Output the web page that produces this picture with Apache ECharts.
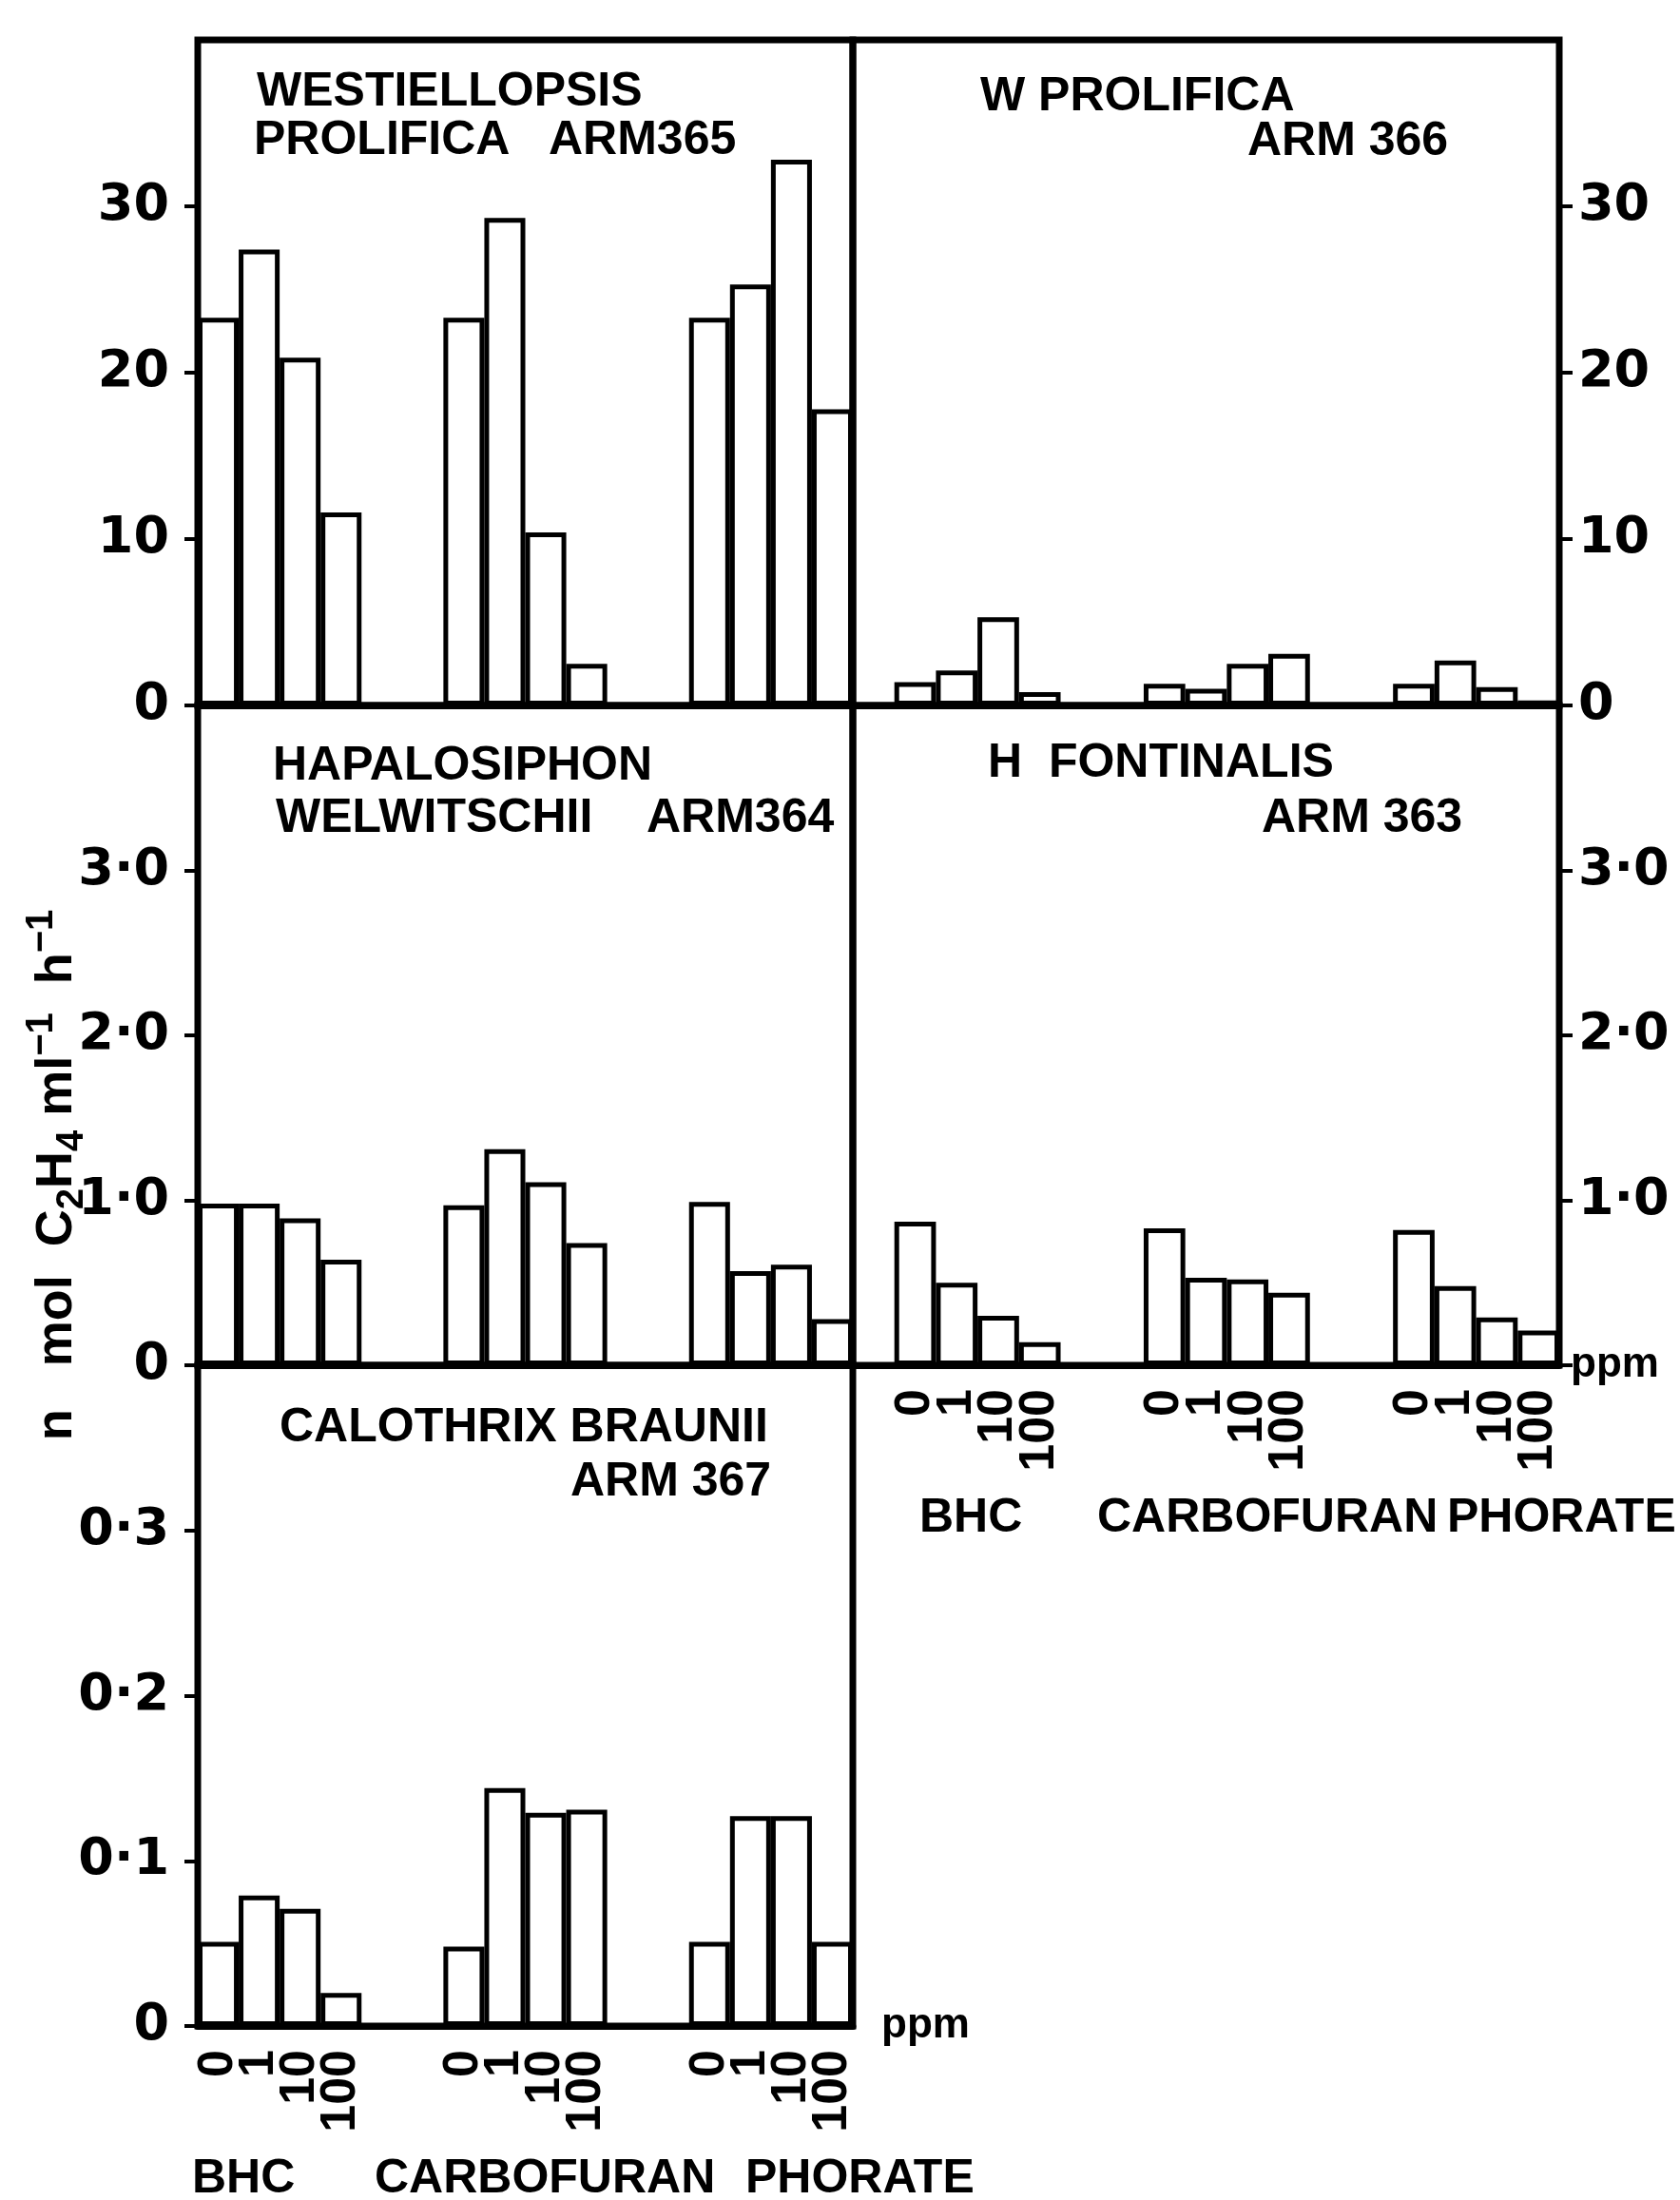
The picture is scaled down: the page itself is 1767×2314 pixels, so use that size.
<!DOCTYPE html>
<html>
<head>
<meta charset="utf-8">
<script src="https://cdn.jsdelivr.net/npm/echarts@6/dist/echarts.min.js"></script>
<style>
html,body{margin:0;padding:0;background:#fff;}
#chart{width:1767px;height:2314px;}
</style>
</head>
<body>
<div id="chart"></div>
<script>
// ---------- data ----------
const doses = ['0', '1', '10', '100'];
const pesticides = ['BHC', 'CARBOFURAN', 'PHORATE'];

// nmol C2H4 ml-1 h-1, order: BHC(0,1,10,100), CARBOFURAN(...), PHORATE(...)
const arm365 = [23.3, 27.4, 20.9, 11.6, 23.3, 29.3, 10.4, 2.5, 23.3, 25.3, 32.8, 17.8];
const arm366 = [1.4, 2.1, 5.3, 0.8, 1.3, 1.0, 2.5, 3.1, 1.3, 2.7, 1.1, 0.3];
const arm364 = [0.98, 0.98, 0.89, 0.64, 0.97, 1.31, 1.11, 0.74, 0.99, 0.57, 0.61, 0.28];
const arm363 = [0.87, 0.50, 0.30, 0.14, 0.83, 0.53, 0.52, 0.44, 0.82, 0.48, 0.29, 0.21];
const arm367 = [0.051, 0.079, 0.071, 0.020, 0.048, 0.144, 0.129, 0.131, 0.051, 0.127, 0.127, 0.051];

const ticksTop = [0, 10, 20, 30];
const tickLabelsTop = ['0', '10', '20', '30'];
const ticksMid = [0, 1, 2, 3];
const tickLabelsMid = ['0', '1·0', '2·0', '3·0'];
const ticksBot = [0, 0.1, 0.2, 0.3];
const tickLabelsBot = ['0', '0·1', '0·2', '0·3'];

const xUnit = 'ppm';
const yTitleParts = ['n   mol  C', '2', 'H', '4', ' ml', '−1', '  h', '−1'];

// ---------- layout ----------
const cols = [{ left: 208, width: 689 }, { left: 897, width: 743 }];
const rows = [{ top: 42, height: 700 }, { top: 742, height: 694 }, { top: 1436, height: 695 }];

const panels = [
  { values: arm365, col: 0, row: 0, lead: 0, max: 40, step: 10, ticks: ticksTop, labels: tickLabelsTop, side: 'left', showX: false, hideZero: false },
  { values: arm366, col: 1, row: 0, lead: 1, max: 40, step: 10, ticks: ticksTop, labels: tickLabelsTop, side: 'right', showX: false, hideZero: false },
  { values: arm364, col: 0, row: 1, lead: 0, max: 4, step: 1, ticks: ticksMid, labels: tickLabelsMid, side: 'left', showX: false, hideZero: false },
  { values: arm363, col: 1, row: 1, lead: 1, max: 4, step: 1, ticks: ticksMid, labels: tickLabelsMid, side: 'right', showX: true, hideZero: true, nameGap: 12 },
  { values: arm367, col: 0, row: 2, lead: 0, max: 0.4, step: 0.1, ticks: ticksBot, labels: tickLabelsBot, side: 'left', showX: true, hideZero: false, nameGap: 30 }
];

const titles = [
  { text: 'WESTIELLOPSIS', x: 270, y: 97 },
  { text: 'PROLIFICA', x: 267, y: 148 },
  { text: 'ARM365', x: 577, y: 148 },
  { text: 'W PROLIFICA', x: 1031, y: 102 },
  { text: 'ARM 366', x: 1312, y: 149 },
  { text: 'HAPALOSIPHON', x: 287, y: 806 },
  { text: 'WELWITSCHII', x: 290, y: 861 },
  { text: 'ARM364', x: 680, y: 861 },
  { text: 'H  FONTINALIS', x: 1039, y: 803 },
  { text: 'ARM 363', x: 1327, y: 861 },
  { text: 'CALOTHRIX BRAUNII', x: 294, y: 1502 },
  { text: 'ARM 367', x: 600, y: 1559 }
];
const groupLabelPos = [
  { xs: [967, 1154, 1522], y: 1597 },
  { xs: [202, 394, 784], y: 2292 }
];

// ---------- build ----------
function buildSlots(values, lead) {
  const cats = [], labels = [], data = [];
  for (let i = 0; i < lead; i++) { cats.push('lead' + i); labels.push(''); data.push(null); }
  pesticides.forEach((p, g) => {
    if (g > 0) { for (let k = 0; k < 2; k++) { cats.push('gap' + g + '_' + k); labels.push(''); data.push(null); } }
    doses.forEach((d, j) => { cats.push(p + '_' + d); labels.push(d); data.push(values[g * doses.length + j]); });
  });
  return { cats, labels, data };
}

const grid = [], xAxis = [], yAxis = [], series = [];
const BLACK = '#000';

panels.forEach((p, i) => {
  const c = cols[p.col], r = rows[p.row];
  grid.push({ left: c.left, top: r.top, width: c.width, height: r.height, show: true,
    borderColor: BLACK, borderWidth: 7, backgroundColor: 'transparent', containLabel: false });
  const s = buildSlots(p.values, p.lead);
  xAxis.push({
    gridIndex: i, type: 'category', data: s.cats, boundaryGap: true,
    axisLine: { show: true, lineStyle: { color: BLACK, width: 7 } },
    axisTick: { show: false },
    splitLine: { show: false },
    name: p.showX ? xUnit : '',
    nameLocation: 'end', nameGap: p.nameGap || 12,
    nameTextStyle: { fontFamily: 'Liberation Sans', fontWeight: 'bold', fontSize: 44, color: BLACK, verticalAlign: 'middle', padding: [14, 0, 0, 0] },
    axisLabel: {
      show: p.showX, interval: 0, rotate: 90, margin: 25,
      fontFamily: 'Liberation Sans', fontWeight: 'bold', fontSize: 52, color: BLACK,
      formatter: (v, idx) => s.labels[idx]
    }
  });
  const labelValues = p.hideZero ? p.ticks.filter(t => t !== 0) : p.ticks.slice();
  yAxis.push({
    gridIndex: i, type: 'value', min: 0, max: p.max, interval: p.step, position: p.side,
    axisLine: { show: false },
    splitLine: { show: false },
    axisTick: { show: true, inside: false, length: 14, lineStyle: { color: BLACK, width: 4 }, customValues: p.ticks },
    axisLabel: {
      show: true, margin: p.side === 'left' ? 30 : 20, customValues: labelValues,
      fontFamily: 'DejaVu Sans', fontWeight: 'bold', fontSize: 54, color: BLACK,
      formatter: (v) => {
        const k = p.ticks.findIndex(t => Math.abs(t - v) < 1e-9);
        return k >= 0 ? p.labels[k] : '';
      }
    }
  });
  series.push({
    type: 'bar', xAxisIndex: i, yAxisIndex: i, data: s.data,
    barWidth: '100%', barCategoryGap: '0%', silent: true,
    itemStyle: { color: '#fff', borderColor: BLACK, borderWidth: 5 }
  });
});

const TFONT = 'bold 50px "Liberation Sans"';
const graphic = [];
titles.forEach(t => graphic.push({
  type: 'text', x: t.x, y: t.y, silent: true,
  style: { text: t.text, font: TFONT, fill: BLACK, align: 'left', verticalAlign: 'middle', textAlign: 'left', textVerticalAlign: 'middle' }
}));
groupLabelPos.forEach(g => pesticides.forEach((p, k) => graphic.push({
  type: 'text', x: g.xs[k], y: g.y, silent: true,
  style: { text: p, font: TFONT, fill: BLACK, align: 'left', verticalAlign: 'middle', textAlign: 'left', textVerticalAlign: 'middle' }
})));
const styleNames = ['m', 'sub', 'm', 'sub', 'm', 'sup', 'm', 'sup'];
graphic.push({
  type: 'text', x: 60, y: 1236, rotation: Math.PI / 2, silent: true,
  style: {
    text: yTitleParts.map((t, k) => '{' + styleNames[k] + '|' + t + '}').join(''),
    fill: BLACK, align: 'center', verticalAlign: 'middle', textAlign: 'center', textVerticalAlign: 'middle',
    rich: {
      m: { fontFamily: 'Liberation Sans', fontWeight: 'bold', fontSize: 54, lineHeight: 72, fill: BLACK, color: BLACK },
      sub: { fontFamily: 'Liberation Sans', fontWeight: 'bold', fontSize: 40, verticalAlign: 'bottom', fill: BLACK, color: BLACK },
      sup: { fontFamily: 'Liberation Sans', fontWeight: 'bold', fontSize: 40, verticalAlign: 'top', fill: BLACK, color: BLACK }
    }
  }
});

const chart = echarts.init(document.getElementById('chart'), null, { renderer: 'canvas', width: 1767, height: 2314 });
chart.setOption({
  backgroundColor: '#fff',
  animation: false,
  grid, xAxis, yAxis, series, graphic
});
</script>
</body>
</html>
